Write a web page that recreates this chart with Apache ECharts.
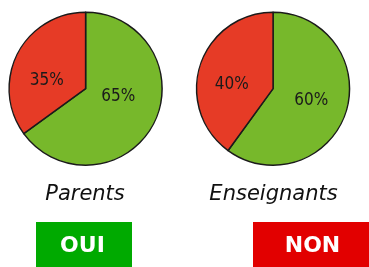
<!DOCTYPE html>
<html><head><meta charset="utf-8">
<script src="https://cdn.jsdelivr.net/npm/echarts@6/dist/echarts.min.js"></script>
<style>html,body{margin:0;padding:0;background:#fff}#c{width:369px;height:267px}</style>
</head><body><div id="c"></div>
<script>
const groups = ['Parents', 'Enseignants'];
const answers = ['OUI', 'NON'];
const ouiValues = [65, 60];
const nonValues = [35, 40];

const chart = echarts.init(document.getElementById('c'), null, {renderer: 'canvas'});
const centers = [['23.2%', '33.2%'], ['74%', '33.2%']];
const ouiOffsets = [[-4, -11], [-1, -1]];
const nonOffsets = [[-2, 11], [-2, 9]];
const labelFont = {color: '#1a1a1a', fontSize: 17, fontFamily: '"Liberation Sans Narrow", "DejaVu Sans Condensed", "Liberation Sans"'};
const series = groups.map((g, i) => ({
  type: 'pie',
  name: g,
  center: centers[i],
  radius: 76.5,
  startAngle: 90,
  clockwise: true,
  silent: true,
  animation: false,
  label: Object.assign({show: true, position: 'inside', formatter: '{c}%'}, labelFont),
  labelLine: {show: false},
  itemStyle: {borderColor: '#1a1a1a', borderWidth: 1.5},
  data: [
    {name: answers[0], value: ouiValues[i], itemStyle: {color: '#77b82b'}, label: {offset: ouiOffsets[i]}},
    {name: answers[1], value: nonValues[i], itemStyle: {color: '#e63b26'}, label: {offset: nonOffsets[i]}}
  ]
}));

chart.setOption({
  animation: false,
  title: groups.map((g, i) => ({
    text: g,
    left: i === 0 ? 80 : 268.5,
    textAlign: 'center',
    top: 179,
    textStyle: {fontSize: 21, fontStyle: 'italic', fontWeight: 'normal', color: '#111', fontFamily: 'DejaVu Sans'}
  })),
  graphic: [
    {type: 'rect', shape: {x: 36, y: 222, width: 96, height: 45}, style: {fill: '#00aa00'}},
    {type: 'text', x: 82.5, y: 246.5, style: {text: answers[0], fill: '#fff', font: 'bold 22px "DejaVu Sans"', textAlign: 'center', textVerticalAlign: 'middle'}},
    {type: 'rect', shape: {x: 253, y: 222, width: 116, height: 45}, style: {fill: '#e20000'}},
    {type: 'text', x: 312.5, y: 246.5, style: {text: answers[1], fill: '#fff', font: 'bold 22px "DejaVu Sans"', textAlign: 'center', textVerticalAlign: 'middle'}}
  ],
  series: series
});
</script></body></html>
